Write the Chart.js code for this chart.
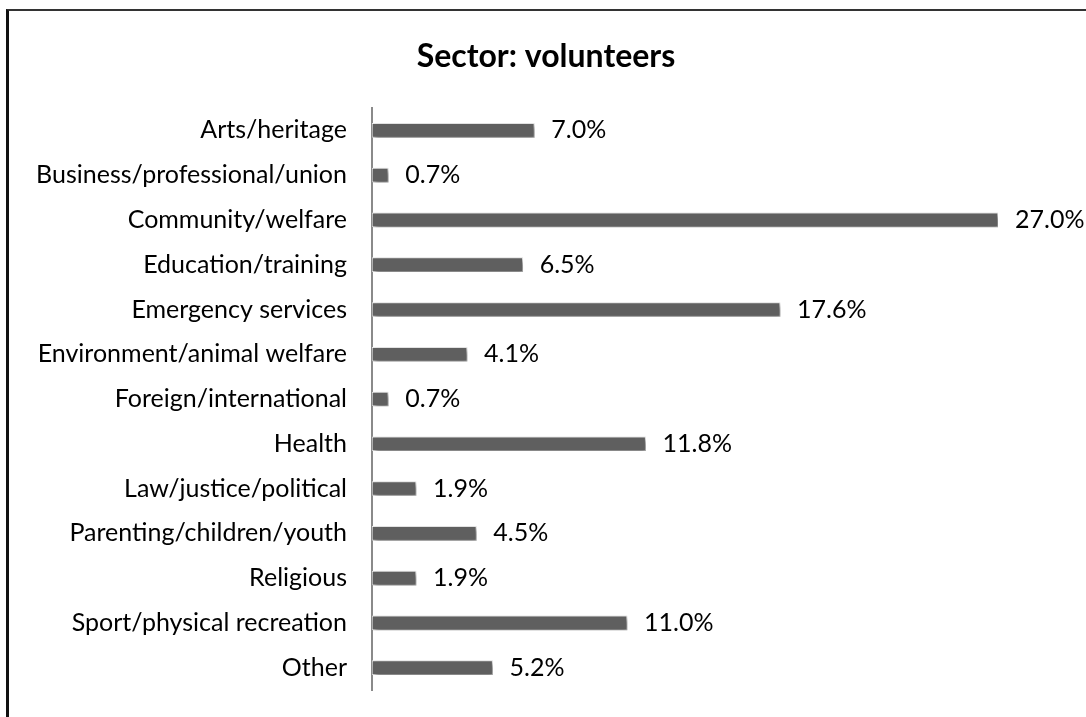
<!DOCTYPE html>
<html>
<head>
<meta charset="utf-8">
<script src="https://cdn.jsdelivr.net/npm/chart.js@4"></script>
<style>
  html, body { margin: 0; padding: 0; background: #fff; overflow: hidden; }
  #marco { position: absolute; left: 6px; top: 9px; width: 1200px; height: 800px;
           border-top: 2px solid #333; border-left: 3px solid #111; }
  #lienzo { position: absolute; left: 0; top: 0; width: 1086px; height: 717px; }
</style>
</head>
<body>
<div id="marco"></div>
<div id="lienzo"><canvas id="sectorChart"></canvas></div>
<script>
// Datos del gráfico
var sectores = ["Arts/heritage", "Business/professional/union", "Community/welfare",
    "Education/training", "Emergency services", "Environment/animal welfare",
    "Foreign/international", "Health", "Law/justice/political",
    "Parenting/children/youth", "Religious", "Sport/physical recreation", "Other"];
var porcentajes = [7.0, 0.7, 27.0, 6.5, 17.6, 4.1, 0.7, 11.8, 1.9, 4.5, 1.9, 11.0, 5.2];
var titulo = "Sector: volunteers";

var fuente = 'Lato, "Open Sans", sans-serif';

// Título centrado sobre todo el lienzo
var tituloCentrado = {
    id: 'tituloCentrado',
    afterDraw: function (chart) {
        var ctx = chart.ctx;
        ctx.save();
        ctx.font = 'bold 32px ' + fuente;
        ctx.fillStyle = '#000';
        ctx.textAlign = 'center';
        ctx.textBaseline = 'middle';
        ctx.fillText(titulo, 546, 57);
        ctx.restore();
    }
};

// Sombra bajo las barras
var sombraBarras = {
    id: 'sombraBarras',
    beforeDatasetDraw: function (chart) {
        var ctx = chart.ctx;
        ctx.save();
        ctx.shadowColor = 'rgba(0,0,0,0.5)';
        ctx.shadowBlur = 5;
        ctx.shadowOffsetX = 2;
        ctx.shadowOffsetY = 3;
    },
    afterDatasetDraw: function (chart) {
        chart.ctx.restore();
    }
};

// Etiquetas de valor a la derecha de cada barra
var etiquetasValor = {
    id: 'etiquetasValor',
    afterDatasetsDraw: function (chart) {
        var ctx = chart.ctx;
        var meta = chart.getDatasetMeta(0);
        ctx.save();
        ctx.font = '25px ' + fuente;
        ctx.fillStyle = '#000';
        ctx.textAlign = 'left';
        ctx.textBaseline = 'middle';
        meta.data.forEach(function (barra, i) {
            ctx.fillText(porcentajes[i].toFixed(1) + '%', barra.x + 17, barra.y);
        });
        ctx.restore();
    }
};

var ctx = document.getElementById('sectorChart').getContext('2d');
new Chart(ctx, {
    type: 'bar',
    data: {
        labels: sectores,
        datasets: [{
            data: porcentajes,
            backgroundColor: '#5f5f5f',
            borderColor: '#ececec',
            borderWidth: 1,
            borderSkipped: false,
            barThickness: 14
        }]
    },
    options: {
        indexAxis: 'y',
        responsive: true,
        maintainAspectRatio: false,
        animation: false,
        layout: { padding: { top: 108, right: 88, bottom: 27, left: 0 } },
        plugins: {
            legend: { display: false },
            tooltip: { enabled: false },
            title: { display: false }
        },
        scales: {
            x: { display: false, min: 0, max: 27 },
            y: {
                grid: { display: false, drawTicks: false },
                border: { display: true, color: '#8a8a8a', width: 2 },
                ticks: {
                    color: '#000',
                    padding: 25,
                    font: { family: fuente, size: 25 }
                },
                afterFit: function (escala) {
                    escala.width = 372;
                    escala.paddingTop = 0;
                    escala.paddingBottom = 0;
                }
            }
        }
    },
    plugins: [sombraBarras, etiquetasValor, tituloCentrado]
});
</script>
</body>
</html>
